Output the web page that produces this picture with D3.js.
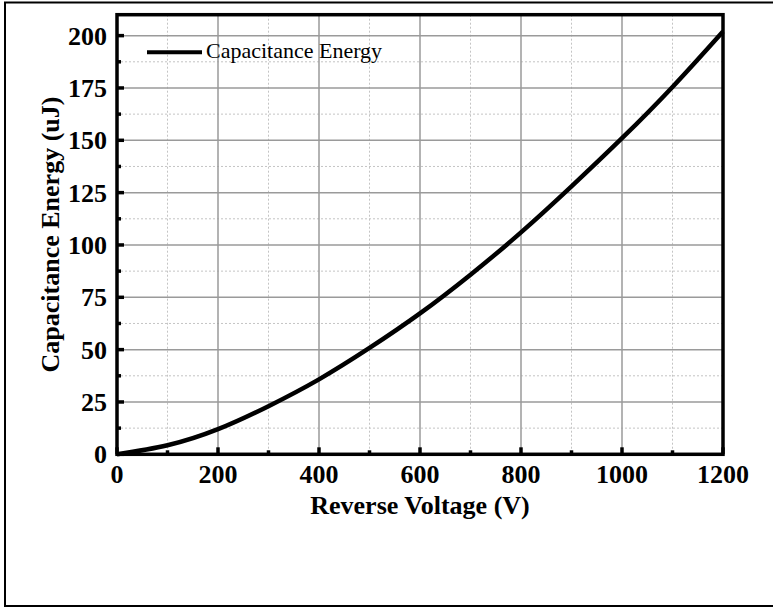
<!DOCTYPE html>
<meta charset="utf-8">
<style>
body {
    margin: 0;
    padding: 0;
    background: #fff;
}
text {
    font-family: "Liberation Serif", "Times New Roman", serif;
}
</style>
<body>
<svg width="773" height="608"></svg>
<script src="https://cdnjs.cloudflare.com/ajax/libs/d3/7.8.5/d3.min.js"></script>
<script>
// values
var voltage = [0, 100, 200, 300, 400, 500, 600, 700, 800, 900, 1000, 1100, 1200];
var energy  = [0, 4.3, 12, 23, 35.8, 50.8, 67.3, 85.8, 106, 128, 151, 175.5, 202];
var xTicks = [0, 200, 400, 600, 800, 1000, 1200];
var yTicks = [0, 25, 50, 75, 100, 125, 150, 175, 200];
var xMinor = [100, 300, 500, 700, 900, 1100];
var yMinor = [12.5, 37.5, 62.5, 87.5, 112.5, 137.5, 162.5, 187.5];
var seriesName = "Capacitance Energy";

var svg = d3.select("svg");

// plot box edges (px)
var plotL = 117, plotR = 723, plotT = 14.7, plotB = 454.3;

var x = d3.scaleLinear().domain([0, 1200]).range([plotL, plotR]);
var y = d3.scaleLinear().domain([0, 210]).range([plotB, plotT]);

// outer frame (cut off on the right like the original image)
svg.append("rect")
    .attr("x", 5).attr("y", 2.5)
    .attr("width", 790).attr("height", 603.5)
    .attr("fill", "none").attr("stroke", "#000").attr("stroke-width", 2);

// minor grid (dotted)
var grid = svg.append("g");
grid.selectAll(".vminor").data(xMinor).enter().append("line")
    .attr("x1", x).attr("x2", x).attr("y1", plotT).attr("y2", plotB)
    .attr("stroke", "#c4c4c4").attr("stroke-width", 1).attr("stroke-dasharray", "2,2");
grid.selectAll(".hminor").data(yMinor).enter().append("line")
    .attr("y1", y).attr("y2", y).attr("x1", plotL).attr("x2", plotR)
    .attr("stroke", "#c4c4c4").attr("stroke-width", 1).attr("stroke-dasharray", "2,2");
// major grid (solid)
grid.selectAll(".vmajor").data(xTicks.slice(1, -1)).enter().append("line")
    .attr("x1", x).attr("x2", x).attr("y1", plotT).attr("y2", plotB)
    .attr("stroke", "#9a9a9a").attr("stroke-width", 1.5);
grid.selectAll(".hmajor").data(yTicks.slice(1)).enter().append("line")
    .attr("y1", y).attr("y2", y).attr("x1", plotL).attr("x2", plotR)
    .attr("stroke", "#9a9a9a").attr("stroke-width", 1.5);

// inward ticks
var ticks = svg.append("g").attr("stroke", "#000").attr("stroke-width", 3.5);
ticks.selectAll(".xt").data(xTicks).enter().append("line")
    .attr("x1", x).attr("x2", x).attr("y1", plotB).attr("y2", plotB - 7);
ticks.selectAll(".xm").data(xMinor).enter().append("line")
    .attr("x1", x).attr("x2", x).attr("y1", plotB).attr("y2", plotB - 4);
ticks.selectAll(".yt").data(yTicks).enter().append("line")
    .attr("y1", y).attr("y2", y).attr("x1", plotL).attr("x2", plotL + 7);
ticks.selectAll(".ym").data(yMinor).enter().append("line")
    .attr("y1", y).attr("y2", y).attr("x1", plotL).attr("x2", plotL + 4);

// the curve
var line = d3.line()
    .x(function(d, i) { return x(voltage[i]); })
    .y(function(d) { return y(d); })
    .curve(d3.curveNatural);

svg.append("path")
    .datum(energy)
    .attr("d", line)
    .attr("fill", "none")
    .attr("stroke", "#000")
    .attr("stroke-width", 4.5);

// box
svg.append("rect")
    .attr("x", plotL).attr("y", plotT)
    .attr("width", plotR - plotL).attr("height", plotB - plotT)
    .attr("fill", "none").attr("stroke", "#000").attr("stroke-width", 3.5);

// tick labels
svg.selectAll(".xl").data(xTicks).enter().append("text")
    .attr("x", x).attr("y", 483)
    .attr("text-anchor", "middle")
    .style("font-size", "26px").style("font-weight", "bold")
    .text(function(d) { return d; });
svg.selectAll(".yl").data(yTicks).enter().append("text")
    .attr("x", 107).attr("y", function(d) { return y(d) + 9; })
    .attr("text-anchor", "end")
    .style("font-size", "26px").style("font-weight", "bold")
    .text(function(d) { return d; });

// axis titles
svg.append("text")
    .attr("x", (plotL + plotR) / 2).attr("y", 514)
    .attr("text-anchor", "middle")
    .style("font-size", "26px").style("font-weight", "bold")
    .text("Reverse Voltage (V)");
svg.append("text")
    .attr("transform", "translate(59," + ((plotT + plotB) / 2) + ") rotate(-90)")
    .attr("text-anchor", "middle")
    .style("font-size", "26px").style("font-weight", "bold")
    .text("Capacitance Energy (uJ)");

// legend
svg.append("line")
    .attr("x1", 147).attr("x2", 202).attr("y1", 52.3).attr("y2", 52.3)
    .attr("stroke", "#000").attr("stroke-width", 4);
svg.append("text")
    .attr("x", 206).attr("y", 58)
    .style("font-size", "22px")
    .text(seriesName);
</script>
</body>
